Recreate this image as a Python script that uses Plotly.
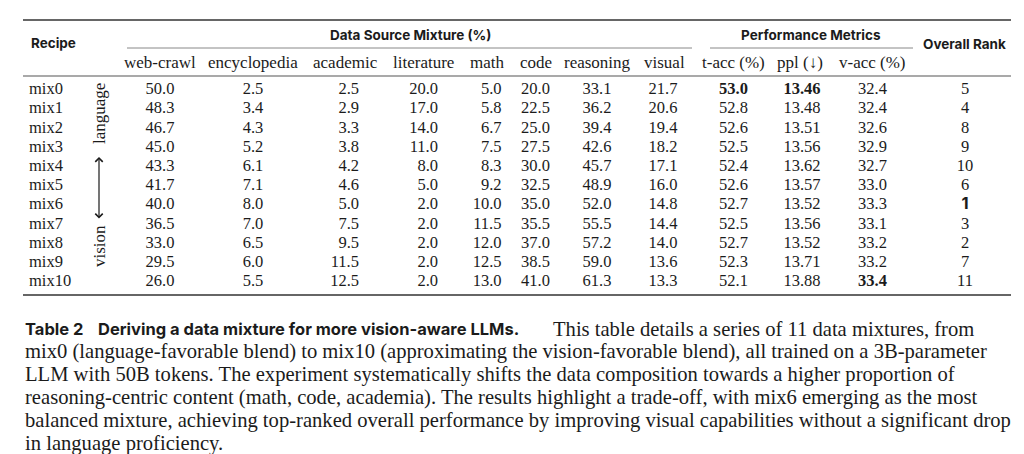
import plotly.graph_objects as go

# ---------------- data ----------------
recipes = ["mix0", "mix1", "mix2", "mix3", "mix4", "mix5", "mix6", "mix7", "mix8", "mix9", "mix10"]
web_crawl = [50.0, 48.3, 46.7, 45.0, 43.3, 41.7, 40.0, 36.5, 33.0, 29.5, 26.0]
encyclopedia = [2.5, 3.4, 4.3, 5.2, 6.1, 7.1, 8.0, 7.0, 6.5, 6.0, 5.5]
academic = [2.5, 2.9, 3.3, 3.8, 4.2, 4.6, 5.0, 7.5, 9.5, 11.5, 12.5]
literature = [20.0, 17.0, 14.0, 11.0, 8.0, 5.0, 2.0, 2.0, 2.0, 2.0, 2.0]
math = [5.0, 5.8, 6.7, 7.5, 8.3, 9.2, 10.0, 11.5, 12.0, 12.5, 13.0]
code = [20.0, 22.5, 25.0, 27.5, 30.0, 32.5, 35.0, 35.5, 37.0, 38.5, 41.0]
reasoning = [33.1, 36.2, 39.4, 42.6, 45.7, 48.9, 52.0, 55.5, 57.2, 59.0, 61.3]
visual = [21.7, 20.6, 19.4, 18.2, 17.1, 16.0, 14.8, 14.4, 14.0, 13.6, 13.3]
t_acc = [53.0, 52.8, 52.6, 52.5, 52.4, 52.6, 52.7, 52.5, 52.7, 52.3, 52.1]
ppl = [13.46, 13.48, 13.51, 13.56, 13.62, 13.57, 13.52, 13.56, 13.52, 13.71, 13.88]
v_acc = [32.4, 32.4, 32.6, 32.9, 32.7, 33.0, 33.3, 33.1, 33.2, 33.2, 33.4]
overall_rank = [5, 4, 8, 9, 10, 6, 1, 3, 2, 7, 11]

mixture_labels = ["web-crawl", "encyclopedia", "academic", "literature", "math", "code", "reasoning", "visual"]
metric_labels = ["t-acc (%)", "ppl (↓)", "v-acc (%)"]
group_labels = ["Data Source Mixture (%)", "Performance Metrics"]
recipe_header = "Recipe"
rank_header = "Overall Rank"
direction_labels = ["language", "vision"]

caption_label = "Table 2"
caption_title = "Deriving a data mixture for more vision-aware LLMs."
caption_lines = [
    "This table details a series of 11 data mixtures, from",
    "mix0 (language-favorable blend) to mix10 (approximating the vision-favorable blend), all trained on a 3B-parameter",
    "LLM with 50B tokens. The experiment systematically shifts the data composition towards a higher proportion of",
    "reasoning-centric content (math, code, academia). The results highlight a trade-off, with mix6 emerging as the most",
    "balanced mixture, achieving top-ranked overall performance by improving visual capabilities without a significant drop",
    "in language proficiency.",
]

# ---------------- layout / style ----------------
W, H = 1024, 454
SERIF = "Liberation Serif"
SANS = "Inter"
INK = "#1b1b1b"
FS = 16.5
CAP_FS = 20.6

row_y0, row_step = 82, 19.2
row_ys = [row_y0 + i * row_step for i in range(len(recipes))]


def f1(v):
    return f"{v:.1f}"


def f2(v):
    return f"{v:.2f}"


best_t = max(t_acc)
best_ppl = min(ppl)
best_v = max(v_acc)

columns = [
    (web_crawl, 152, "c", [f1(v) for v in web_crawl]),
    (encyclopedia, 245, "c", [f1(v) for v in encyclopedia]),
    (academic, 351, "r", [f1(v) for v in academic]),
    (literature, 430, "r", [f1(v) for v in literature]),
    (math, 493.5, "r", [f1(v) for v in math]),
    (code, 527.5, "c", [f1(v) for v in code]),
    (reasoning, 589, "c", [f1(v) for v in reasoning]),
    (visual, 655, "c", [f1(v) for v in visual]),
    (t_acc, 725.5, "c", [f"<b>{f1(v)}</b>" if v == best_t else f1(v) for v in t_acc]),
    (ppl, 794, "c", [f"<b>{f2(v)}</b>" if v == best_ppl else f2(v) for v in ppl]),
    (v_acc, 864.5, "c", [f"<b>{f1(v)}</b>" if v == best_v else f1(v) for v in v_acc]),
    (overall_rank, 957, "c",
     [f"<b><span style='font-family:{SANS}'>{v}</span></b>" if v == 1 else str(v) for v in overall_rank]),
]

fig = go.Figure()

# recipe names
fig.add_trace(go.Scatter(
    x=[21] * len(recipes), y=row_ys, text=recipes, mode="text",
    textposition="middle right", textfont=dict(family=SERIF, size=FS, color=INK),
    hoverinfo="skip", showlegend=False))

for vals, x, align, txt in columns:
    fig.add_trace(go.Scatter(
        x=[x] * len(vals), y=row_ys, text=txt, mode="text",
        textposition="middle left" if align == "r" else "middle center",
        textfont=dict(family=SERIF, size=FS, color=INK),
        hoverinfo="skip", showlegend=False))

annotations = []
# header texts
sub_x = [152, 245, 337, 415, 479, 527.5, 589, 656, 725, 792, 864]
for lab, x in zip(mixture_labels + metric_labels, sub_x):
    annotations.append(dict(x=x, y=54, text=lab, showarrow=False, xanchor="center", yanchor="middle",
                            font=dict(family=SERIF, size=FS + 0.5, color=INK)))
annotations.append(dict(x=21, y=35, text=f"<b>{recipe_header}</b>", showarrow=False, xanchor="left",
                        yanchor="middle", font=dict(family=SANS, size=13.5, color=INK)))
annotations.append(dict(x=402, y=27, text=f"<b>{group_labels[0]}</b>", showarrow=False, xanchor="center",
                        yanchor="middle", font=dict(family=SANS, size=13.5, color=INK)))
annotations.append(dict(x=803, y=27, text=f"<b>{group_labels[1]}</b>", showarrow=False, xanchor="center",
                        yanchor="middle", font=dict(family=SANS, size=13.5, color=INK)))
annotations.append(dict(x=956, y=36, text=f"<b>{rank_header}</b>", showarrow=False, xanchor="center",
                        yanchor="middle", font=dict(family=SANS, size=13.5, color=INK)))

# direction labels + arrow
annotations.append(dict(x=91, y=106, text=direction_labels[0], showarrow=False, textangle=-90,
                        xanchor="center", yanchor="middle", font=dict(family=SERIF, size=FS + 0.5, color=INK)))
annotations.append(dict(x=91, y=238, text=direction_labels[1], showarrow=False, textangle=-90,
                        xanchor="center", yanchor="middle", font=dict(family=SERIF, size=FS + 0.5, color=INK)))
annotations.append(dict(x=91, y=149, ax=91, ay=212, xref="x", yref="y", axref="x", ayref="y",
                        text="", showarrow=True, arrowhead=4, startarrowhead=4, arrowside="end+start",
                        arrowsize=1.2, arrowwidth=1.2, arrowcolor=INK))

# caption
cap_y0, cap_step = 321, 22.8
annotations.append(dict(x=15, y=cap_y0, text=f"<b>{caption_label}</b>", showarrow=False, xanchor="left",
                        yanchor="middle", font=dict(family=SANS, size=16.5, color=INK)))
annotations.append(dict(x=88, y=cap_y0, text=f"<b>{caption_title}</b>", showarrow=False, xanchor="left",
                        yanchor="middle", font=dict(family=SANS, size=16.5, color=INK)))
annotations.append(dict(x=543, y=cap_y0, text=caption_lines[0], showarrow=False, xanchor="left",
                        yanchor="middle", font=dict(family=SERIF, size=CAP_FS, color=INK)))
for i, line in enumerate(caption_lines[1:], start=1):
    annotations.append(dict(x=15, y=cap_y0 + i * cap_step, text=line, showarrow=False, xanchor="left",
                            yanchor="middle", font=dict(family=SERIF, size=CAP_FS, color=INK)))

for a in annotations:
    a.setdefault("xref", "x")
    a.setdefault("yref", "y")

shapes = [
    dict(type="line", x0=15, x1=1003, y0=12, y1=12, line=dict(color="#333", width=1.6)),
    dict(type="line", x0=119, x1=684, y0=40, y1=40, line=dict(color="#888", width=1)),
    dict(type="line", x0=702, x1=905, y0=40, y1=40, line=dict(color="#888", width=1)),
    dict(type="line", x0=15, x1=1003, y0=68, y1=68, line=dict(color="#555", width=1.1)),
    dict(type="line", x0=15, x1=1003, y0=287, y1=287, line=dict(color="#333", width=1.6)),
]
for s in shapes:
    s["xref"] = "x"
    s["yref"] = "y"

fig.update_layout(
    width=W, height=H, margin=dict(l=0, r=0, t=0, b=0),
    paper_bgcolor="white", plot_bgcolor="white",
    xaxis=dict(range=[0, W], visible=False, fixedrange=True),
    yaxis=dict(range=[H, 0], visible=False, fixedrange=True),
    annotations=annotations, shapes=shapes,
)

fig.write_html("out.html")
